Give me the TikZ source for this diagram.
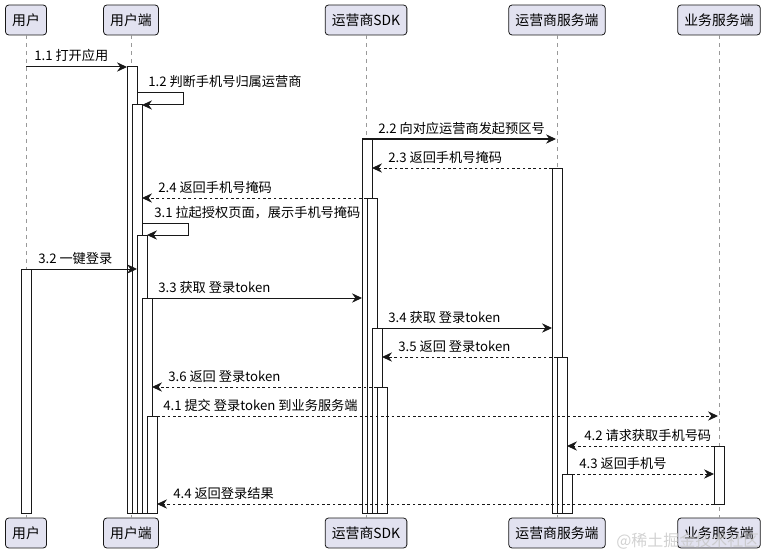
\documentclass[tikz,border=0pt]{standalone}
\usepackage{fontspec}
\setmainfont{Noto Sans CJK SC}
\usepackage{xcolor}
\usetikzlibrary{arrows.meta}
\definecolor{headfill}{HTML}{E2E2F0}
\definecolor{inkline}{HTML}{181818}

\begin{document}
\begin{tikzpicture}[x=0.75pt, y=-0.75pt,
    head/.style = {draw=inkline, fill=headfill, rounded corners=2.5pt,
      line width=0.6pt, minimum height=22.5pt, inner xsep=5pt,
      font=\fontsize{10.4}{12}\selectfont},
    life/.style = {draw=gray!80, line width=0.5pt, dash pattern=on 3pt off 3pt},
    bar/.style = {draw=inkline, fill=white, line width=0.75pt},
    msg/.style = {draw=inkline, line width=0.75pt,
      -{Stealth[length=7.5pt,width=7pt,inset=2.5pt]}},
    ret/.style = {msg, dash pattern=on 2pt off 2pt},
    lbl/.style = {anchor=base west, inner sep=0pt,
      font=\fontsize{9.9}{12}\selectfont}]
  \useasboundingbox (0,0) rectangle (766,556);
  % participants and lifelines
  \foreach \n/\x/\t in {usr/26/用户, app/131/用户端, sdk/366/运营商SDK,
      opsrv/557/运营商服务端, biz/719/业务服务端} {
    \node[head] (\n) at (\x,20) {\t};
    \node[head] (\n-end) at (\x,533) {\t};
    \draw[life] (\n) -- (\n-end);
  }
  % activations
  \foreach \xl/\ys/\ye in {21/269/513, 127/67/513, 132/105/513, 137/235/513,
      142/298/513, 147/416/513, 362/139/513, 367/198/513, 372/328/513,
      377/387/513, 552/168/513, 557/357/513, 562/474/513, 714/446/504}
    \draw[bar] (\xl,\ys) rectangle (\xl+10,\ye);
  % messages
  \foreach \n/\y/\xa/\xb/\st/\lx/\t in {
      m11/67/26/127/msg/34/1.1 打开应用,
      m22/139/372/556/msg/378/2.2 向对应运营商发起预区号,
      m23/168/552/372/ret/388/2.3 返回手机号掩码,
      m24/198/367/142/ret/158/2.4 返回手机号掩码,
      m32/269/31/137/msg/38/3.2 一键登录,
      m33/298/152/362/msg/158/3.3 获取 登录token,
      m34/328/382/552/msg/388/3.4 获取 登录token,
      m35/357/557/382/ret/398/3.5 返回 登录token,
      m36/387/377/152/ret/168/3.6 返回 登录token,
      m41/416/157/718/ret/163/4.1 提交 登录token 到业务服务端,
      m42/446/714/567/ret/584/4.2 请求获取手机号码,
      m43/474/572/714/ret/579/4.3 返回手机号,
      m44/504/714/157/ret/173/4.4 返回登录结果} {
    \coordinate (\n-s) at (\xa,\y);
    \coordinate (\n-e) at (\xb,\y);
    \draw[\st] (\n-s) -- (\n-e);
    \node[lbl] (\n-l) at (\lx,\y-6) {\t};
  }
  % self messages
  \coordinate (m12-s) at (137,93);
  \coordinate (m12-e) at (142,105);
  \draw[msg] (m12-s) -- ++(46,0) |- (m12-e);
  \node[lbl] (m12-l) at (148,87) {1.2 判断手机号归属运营商};
  \coordinate (m31-s) at (142,223);
  \coordinate (m31-e) at (147,235);
  \draw[msg] (m31-s) -- ++(46,0) |- (m31-e);
  \node[lbl] (m31-l) at (154,217) {3.1 拉起授权页面，展示手机号掩码};
  % watermark
  \node[anchor=west, inner sep=0pt, text=gray!45, opacity=0.8,
    font=\fontsize{12}{14}\selectfont] (mark) at (616,541) {@稀土掘金技术社区};
\end{tikzpicture}
\end{document}
